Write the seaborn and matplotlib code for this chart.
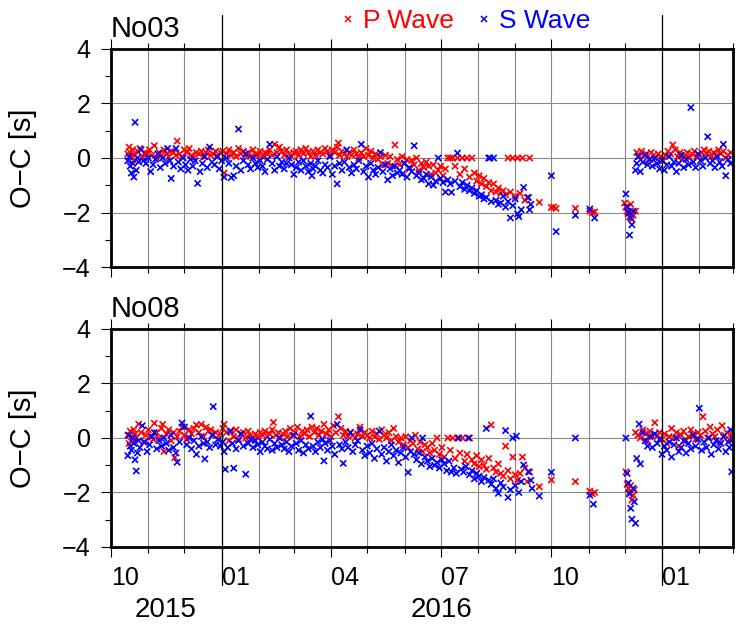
import pandas as pd
import matplotlib
matplotlib.use('Agg')
import matplotlib.pyplot as plt
import matplotlib.dates as mdates
from matplotlib.ticker import MultipleLocator
from matplotlib.lines import Line2D
import seaborn as sns

# days counted from 2015-10-01, O-C residuals in seconds
no03_p_days = [14, 15, 16, 17, 18, 19, 20, 22, 24, 26,
               28, 30, 32, 34, 36, 38, 40, 42, 44, 46,
               48, 50, 52, 54, 55, 57, 59, 61, 63, 65,
               67, 69, 71, 73, 75, 77, 79, 81, 83, 85,
               87, 89, 91, 93, 94, 96, 98, 100, 102, 104,
               106, 108, 110, 112, 114, 116, 118, 120, 122, 124,
               126, 128, 130, 132, 134, 136, 138, 140, 142, 144,
               146, 148, 150, 152, 154, 156, 158, 160, 162, 164,
               166, 168, 170, 172, 174, 176, 178, 180, 182, 184,
               186, 188, 189, 190, 192, 194, 196, 198, 200, 202,
               204, 206, 208, 210, 212, 214, 216, 218, 220, 222,
               224, 226, 228, 230, 232, 234, 236, 238, 240, 242,
               244, 246, 248, 250, 252, 254, 256, 258, 260, 262,
               264, 266, 268, 270, 272, 274, 276, 278, 280, 282,
               284, 286, 288, 290, 292, 294, 296, 298, 300, 302,
               304, 306, 308, 310, 312, 314, 316, 318, 320, 322,
               324, 326, 328, 330, 332, 334, 336, 338, 340, 342,
               344, 346, 348, 356, 366, 368, 370, 386, 398, 400,
               402, 427, 428, 429, 430, 431, 432, 433, 434, 436,
               437, 439, 441, 443, 445, 447, 449, 451, 453, 455,
               457, 459, 461, 463, 465, 467, 469, 471, 473, 475,
               477, 479, 481, 483, 485, 487, 489, 491, 493, 495,
               497, 499, 501, 503, 505, 507, 509, 511, 513, 515]
no03_p_vals = [0.15, 0.40, 0.20, 0.05, 0.30, -0.10, 0.10, 0.25, 0.35, 0.05,
               0.20, 0.15, 0.30, 0.10, 0.45, 0.00, 0.20, 0.10, 0.30, 0.15,
               0.05, 0.25, 0.20, 0.10, 0.62, 0.15, 0.05, 0.30, 0.20, 0.35,
               0.10, 0.00, 0.20, 0.15, 0.25, 0.05, 0.20, 0.30, 0.10, 0.15,
               0.25, 0.05, 0.20, 0.25, -0.55, 0.15, 0.30, 0.10, 0.20, 0.05,
               0.35, 0.15, 0.25, 0.10, 0.20, 0.05, 0.30, 0.15, 0.10, 0.25,
               0.05, 0.20, 0.15, 0.30, 0.10, 0.50, 0.20, 0.40, 0.25, 0.10,
               0.30, 0.15, 0.05, 0.20, 0.25, 0.10, 0.30, 0.15, 0.35, 0.20,
               0.05, 0.25, 0.10, 0.30, 0.20, 0.15, 0.35, 0.25, 0.10, 0.30,
               0.20, 0.40, 0.55, 0.10, 0.25, 0.15, 0.05, 0.20, 0.10, 0.30,
               0.15, 0.00, 0.20, 0.05, 0.35, 0.10, 0.25, 0.00, 0.15, -0.05,
               0.05, -0.25, 0.10, -0.20, 0.05, -0.30, 0.48, -0.05, -0.25, 0.05,
               -0.20, -0.05, -0.40, -0.10, -0.25, 0.00, -0.45, -0.20, -0.35, -0.15,
               -0.30, -0.60, -0.25, -0.55, -0.45, -0.30, -0.65, -0.40, 0.00, 0.00,
               0.00, -0.30, 0.00, -0.60, 0.00, -0.40, 0.00, -0.70, 0.00, -0.55,
               -0.85, -0.65, -0.95, -0.75, -1.05, -0.90, -1.20, -0.95, -1.25, -1.10,
               -1.30, -1.20, -1.35, 0.00, -1.25, 0.00, -1.40, 0.00, -1.30, 0.00,
               -1.55, -1.45, 0.00, -1.63, -1.82, -1.80, -1.85, -1.85, -1.95, -2.00,
               -1.98, -1.65, -1.80, -1.95, -2.05, -2.15, -1.70, -2.25, -2.10, -1.95,
               0.20, 0.05, 0.25, 0.10, 0.15, -0.05, 0.20, 0.10, 0.00, 0.15,
               0.05, -0.10, 0.10, 0.25, 0.15, 0.48, 0.30, 0.05, 0.20, -0.05,
               0.10, 0.20, 0.00, 0.15, 0.25, 0.05, 0.10, 0.20, 0.30, 0.15,
               0.25, 0.05, 0.20, 0.10, 0.30, 0.15, 0.25, 0.00, 0.10, 0.20]

no03_s_days = [14, 15, 16, 17, 18, 19, 20, 21, 22, 23,
               25, 27, 29, 31, 33, 35, 37, 39, 41, 43,
               45, 47, 49, 50, 52, 54, 56, 58, 60, 62,
               64, 66, 68, 70, 72, 74, 76, 78, 80, 82,
               84, 86, 88, 90, 92, 94, 96, 98, 100, 102,
               104, 106, 108, 110, 112, 114, 116, 118, 120, 122,
               124, 126, 128, 130, 132, 134, 136, 138, 140, 142,
               144, 146, 148, 150, 152, 154, 156, 158, 160, 162,
               164, 166, 167, 168, 170, 172, 174, 176, 178, 180,
               182, 184, 186, 188, 190, 192, 194, 196, 198, 200,
               202, 204, 206, 208, 210, 212, 214, 216, 218, 220,
               222, 224, 226, 228, 230, 232, 234, 236, 238, 240,
               242, 244, 246, 248, 250, 252, 254, 256, 258, 260,
               262, 264, 266, 268, 270, 272, 274, 276, 278, 280,
               282, 283, 286, 288, 290, 292, 294, 296, 298, 300,
               302, 304, 306, 308, 310, 312, 314, 315, 316, 318,
               320, 322, 324, 326, 328, 330, 332, 334, 336, 338,
               339, 341, 343, 347, 348, 349, 366, 370, 386, 398,
               402, 428, 429, 430, 431, 432, 433, 434, 436, 437,
               438, 440, 442, 444, 446, 448, 450, 452, 454, 456,
               458, 460, 462, 464, 466, 468, 470, 472, 474, 476,
               478, 480, 482, 484, 486, 488, 490, 492, 494, 496,
               498, 500, 502, 504, 506, 508, 509, 511, 513, 515]
no03_s_vals = [-0.10, 0.05, -0.30, -0.55, -0.20, -0.70, 1.31, -0.45, 0.00, -0.15,
               0.30, -0.10, -0.20, 0.00, -0.50, -0.25, -0.05, 0.15, -0.35, 0.00,
               -0.20, 0.35, -0.10, -0.75, -0.30, 0.35, -0.15, -0.40, 0.00, -0.25,
               -0.45, -0.05, -0.30, -0.10, -0.93, -0.50, -0.20, 0.05, -0.35, 0.40,
               -0.15, -0.25, 0.05, -0.40, -0.10, -0.70, 0.00, -0.20, -0.72, -0.65,
               -0.30, 1.06, -0.45, -0.10, 0.15, -0.25, -0.40, 0.00, -0.20, -0.35,
               -0.10, -0.30, -0.50, -0.05, 0.50, -0.20, -0.45, 0.05, -0.30, -0.15,
               -0.40, -0.20, 0.00, -0.25, -0.60, -0.35, -0.15, -0.45, -0.10, -0.30,
               -0.50, -0.20, -0.65, -0.40, -0.30, -0.10, -0.45, -0.55, -0.25, -0.35,
               0.05, -0.60, -0.30, -0.95, -0.20, -0.45, -0.15, 0.30, -0.35, -0.55,
               -0.25, -0.40, -0.10, 0.50, -0.50, -0.30, -0.70, -0.20, -0.45, -0.60,
               -0.35, 0.20, -0.50, -0.25, -0.80, -0.40, -0.65, -0.30, -0.55, -0.45,
               -0.60, -0.20, -0.70, -0.35, -0.50, 0.45, -0.65, -0.55, -0.80, -0.75,
               -0.60, -0.95, -0.70, -1.00, -0.85, 0.00, -0.75, -0.90, -1.25, -0.80,
               -0.95, -1.26, -0.85, 0.18, -1.05, -0.90, -1.15, -1.00, -1.20, -1.10,
               -1.30, -1.20, -1.40, -1.35, -1.50, -1.45, 0.00, 0.00, -1.60, 0.00,
               -1.55, -1.70, -1.65, -1.40, -1.80, -1.60, -2.20, -1.75, -1.50, -2.05,
               -2.15, -1.90, -1.08, -1.45, -1.90, -1.70, -0.65, -2.70, -2.10, -1.87,
               -2.20, -1.32, -1.80, -2.00, -2.83, -2.20, -2.45, -1.95, -0.45, -0.20,
               0.05, -0.50, -0.15, 0.10, -0.25, -0.05, -0.30, 0.00, -0.20, -0.40,
               -0.10, -0.45, -0.25, 0.05, -0.30, -0.15, -0.50, -0.20, 0.10, -0.35,
               -0.05, -0.25, 1.85, -0.15, -0.35, 0.15, -0.10, -0.30, 0.00, 0.78,
               -0.20, -0.10, -0.35, 0.05, -0.15, -0.30, 0.50, -0.65, -0.05, -0.20]

no08_p_days = [14, 15, 16, 17, 18, 19, 20, 21, 23, 25,
               27, 29, 31, 33, 35, 36, 38, 40, 42, 43,
               44, 46, 48, 50, 52, 53, 55, 57, 59, 61,
               63, 65, 67, 69, 71, 73, 75, 77, 79, 81,
               83, 85, 87, 89, 91, 93, 94, 96, 98, 100,
               102, 104, 106, 108, 110, 112, 114, 116, 118, 120,
               122, 124, 126, 128, 130, 132, 134, 135, 137, 139,
               141, 143, 145, 147, 149, 151, 153, 155, 157, 159,
               161, 163, 165, 167, 169, 171, 173, 175, 177, 179,
               181, 183, 185, 187, 189, 191, 193, 195, 197, 199,
               201, 203, 205, 207, 209, 211, 213, 215, 217, 219,
               221, 223, 225, 227, 229, 231, 233, 235, 237, 239,
               241, 243, 245, 247, 249, 251, 253, 255, 257, 259,
               261, 263, 265, 267, 269, 271, 273, 275, 277, 280,
               282, 284, 286, 288, 290, 292, 294, 296, 298, 300,
               302, 304, 306, 308, 310, 312, 314, 316, 318, 320,
               322, 324, 326, 328, 330, 332, 334, 336, 338, 340,
               342, 344, 346, 348, 356, 366, 386, 398, 400, 402,
               428, 429, 430, 431, 432, 433, 434, 435, 436, 438,
               440, 442, 444, 446, 448, 450, 452, 454, 456, 458,
               460, 462, 464, 466, 468, 470, 472, 474, 476, 478,
               480, 482, 484, 486, 488, 490, 492, 494, 496, 498,
               500, 502, 504, 506, 508, 510, 512, 514, 516, 517]
no08_p_vals = [0.10, -0.20, 0.25, 0.05, -0.10, 0.30, 0.15, 0.00, 0.51, 0.20,
               -0.15, 0.10, 0.30, 0.05, -0.05, 0.54, 0.20, 0.00, 0.35, 0.50,
               -0.50, 0.15, 0.30, -0.10, 0.20, -0.72, 0.05, 0.25, 0.40, 0.10,
               -0.05, 0.30, 0.15, 0.35, 0.48, 0.20, 0.50, 0.05, 0.40, 0.25,
               0.30, 0.10, 0.20, -0.05, 0.15, 0.35, 0.50, 0.20, -0.10, 0.25,
               0.05, 0.30, -0.05, 0.15, 0.20, 0.00, 0.25, 0.10, -0.05, 0.15,
               0.00, 0.20, 0.10, 0.25, 0.05, 0.15, 0.30, 0.57, 0.10, 0.20,
               0.00, 0.15, 0.25, 0.05, 0.35, 0.10, 0.20, 0.40, 0.05, 0.25,
               0.15, 0.30, 0.05, 0.40, 0.20, 0.35, 0.10, 0.25, 0.50, 0.15,
               0.30, 0.05, 0.45, 0.20, 0.78, 0.35, 0.10, 0.25, 0.05, 0.20,
               0.10, 0.00, 0.15, 0.40, 0.05, 0.20, 0.10, 0.00, 0.25, 0.05,
               0.15, -0.05, 0.30, 0.10, 0.00, 0.20, -0.10, 0.35, 0.05, -0.15,
               0.00, -0.25, 0.05, -0.35, -0.10, -0.20, 0.10, -0.40, -0.15, -0.50,
               -0.25, -0.35, -0.55, -0.20, -0.45, 0.00, -0.60, -0.35, -0.70, 0.00,
               -0.45, 0.00, -0.75, 0.00, -0.55, 0.00, -0.85, -0.60, 0.00, -0.80,
               -0.95, -0.65, -1.05, -0.80, -1.00, -1.15, -0.75, 0.48, -1.10, -1.25,
               -0.95, -1.30, -1.40, -0.30, -1.20, -1.50, -0.70, -1.35, -1.55, -1.30,
               -0.70, -1.10, -1.60, -1.25, -1.79, -1.54, -1.60, -1.95, -2.05, -2.00,
               -1.24, -1.70, -1.85, -2.00, -1.75, -2.28, -2.10, -1.90, 0.20, 0.10,
               0.00, 0.30, 0.15, -0.10, 0.25, 0.05, 0.56, 0.10, 0.20, -0.05,
               0.15, -0.20, 0.05, 0.35, 0.00, 0.20, -0.30, 0.10, 0.25, -0.10,
               0.05, 0.30, 0.15, -0.05, 0.20, 0.10, 0.78, 0.25, 0.00, 0.40,
               0.15, 0.05, 0.30, -0.15, 0.45, 0.10, 0.20, -0.05, 0.15, 0.05]

no08_s_days = [14, 15, 16, 17, 18, 19, 20, 21, 22, 23,
               24, 26, 28, 30, 32, 34, 36, 38, 40, 42,
               44, 46, 48, 50, 52, 54, 55, 57, 59, 61,
               63, 65, 67, 69, 71, 73, 75, 77, 78, 80,
               82, 84, 85, 87, 89, 91, 93, 94, 95, 97,
               99, 101, 102, 104, 106, 108, 110, 112, 114, 116,
               118, 120, 122, 124, 126, 128, 130, 132, 134, 136,
               138, 140, 142, 144, 146, 148, 150, 152, 154, 156,
               158, 160, 162, 164, 166, 168, 170, 172, 174, 176,
               177, 178, 180, 182, 184, 186, 188, 190, 192, 193,
               195, 197, 199, 201, 203, 205, 207, 209, 211, 213,
               215, 217, 219, 221, 223, 225, 227, 229, 231, 233,
               235, 237, 239, 241, 243, 245, 247, 249, 250, 252,
               254, 256, 258, 259, 261, 263, 265, 267, 269, 271,
               273, 275, 277, 279, 281, 283, 285, 287, 289, 291,
               293, 295, 297, 298, 300, 302, 304, 306, 308, 310,
               312, 314, 316, 318, 320, 322, 324, 326, 328, 330,
               332, 334, 336, 337, 339, 341, 343, 347, 349, 350,
               356, 366, 386, 398, 401, 428, 429, 430, 431, 432,
               433, 434, 435, 436, 437, 439, 440, 442, 444, 446,
               448, 450, 452, 454, 456, 458, 460, 462, 464, 466,
               468, 470, 472, 474, 476, 478, 480, 482, 484, 486,
               488, 489, 491, 493, 495, 497, 499, 501, 503, 505,
               507, 509, 511, 513, 514, 515, 516, 517]
no08_s_vals = [-0.65, 0.10, -0.30, -0.45, 0.00, -0.20, -0.80, -1.21, -0.55, -0.10,
               -0.35, 0.45, -0.15, -0.50, -0.25, 0.05, 0.20, -0.40, -0.10, -0.30,
               0.00, -0.20, -0.45, 0.10, -0.35, -0.55, -0.89, -0.15, 0.55, 0.40,
               -0.25, 0.00, -0.40, -0.10, -0.60, -0.30, 0.05, -0.20, -0.77, -0.15,
               -0.35, 0.10, 1.15, -0.25, -0.05, -0.30, -0.15, -0.50, -1.15, -0.35,
               0.25, -0.20, -1.11, -0.40, -0.10, 0.15, -0.30, -1.33, -0.20, -0.05,
               -0.35, -0.10, -0.25, -0.50, -0.15, -0.30, -0.40, -0.05, -0.45, -0.20,
               -0.35, 0.00, -0.25, -0.40, -0.15, -0.50, -0.30, 0.10, -0.20, -0.45,
               -0.10, -0.55, -0.25, -0.40, 0.80, -0.30, -0.50, -0.15, -0.35, -0.05,
               -0.84, -0.20, -0.45, -0.10, -0.30, -0.60, 0.50, -0.25, -0.40, -0.93,
               -0.15, -0.35, 0.20, -0.50, -0.25, -0.10, 0.30, -0.45, -0.65, -0.30,
               -0.55, -0.20, -0.75, -0.40, 0.25, -0.60, -0.35, -0.85, -0.50, -0.25,
               -0.65, -0.45, -0.90, -0.55, -0.35, -0.70, -1.26, -0.50, 0.00, -0.60,
               -0.80, -0.55, -0.95, 0.00, -0.70, -0.85, -1.05, -0.75, -1.00, -0.90,
               -1.10, -0.80, -0.95, -1.20, -0.85, -1.25, -1.10, -1.30, 0.00, -1.15,
               -1.25, -1.05, 0.00, -1.35, -1.20, -1.50, -1.30, -1.40, -1.60, -1.45,
               0.35, -1.55, -1.70, -1.50, -1.85, -2.03, -1.65, -1.80, 0.27, -2.18,
               -1.90, 0.00, -1.75, 0.07, -2.00, -1.60, -0.99, -1.24, -1.55, -1.85,
               -2.13, -1.26, 0.00, -2.10, -2.43, 0.00, -1.30, -1.65, -2.05, -2.58,
               -2.98, -1.85, -2.34, -3.13, -0.75, 0.51, -0.95, 0.20, -0.10, -0.30,
               0.05, -0.35, 0.15, -0.20, -0.05, -0.60, -0.30, -0.45, -0.15, -0.70,
               -0.25, 0.00, -0.50, -0.35, -0.10, -0.55, -0.20, -0.40, 0.10, -0.30,
               -0.05, 1.09, -0.45, -0.15, -0.35, 0.00, -0.60, -0.25, -0.10, -0.40,
               -0.20, 0.05, -0.50, -0.15, -0.35, 0.30, -1.24, -0.05]

stations = ['No03', 'No08']
waves = ['P Wave', 'S Wave']
colors = {'P Wave': 'red', 'S Wave': 'blue'}
year_labels = ['2015', '2016']

sns.set_theme(style='white')
plt.rcParams['font.family'] = ['Liberation Sans', 'DejaVu Sans']
plt.rcParams['text.color'] = 'black'
plt.rcParams['axes.labelcolor'] = 'black'
plt.rcParams['xtick.color'] = 'black'
plt.rcParams['ytick.color'] = 'black'

start = pd.Timestamp('2015-10-01')
end = pd.Timestamp('2017-03-01')


def make_frame(p_days, p_vals, s_days, s_vals):
    p = pd.DataFrame({'Time': start + pd.to_timedelta(p_days, unit='D'),
                      'OC': p_vals, 'Wave': 'P Wave'})
    s = pd.DataFrame({'Time': start + pd.to_timedelta(s_days, unit='D'),
                      'OC': s_vals, 'Wave': 'S Wave'})
    return pd.concat([p, s], ignore_index=True)


frames = [make_frame(no03_p_days, no03_p_vals, no03_s_days, no03_s_vals),
          make_frame(no08_p_days, no08_p_vals, no08_s_days, no08_s_vals)]

fig = plt.figure(figsize=(7.36, 6.24), dpi=100)
ax1 = fig.add_axes([0.1508, 0.5721, 0.8451, 0.3494])
ax2 = fig.add_axes([0.1508, 0.1234, 0.8451, 0.3494])

for ax, df, name in zip([ax1, ax2], frames, stations):
    sns.scatterplot(data=df, x='Time', y='OC', hue='Wave', palette=colors,
                    marker='x', s=20, linewidth=1.2, legend=False, ax=ax)
    ax.set_xlim(start, end)
    ax.set_ylim(-4, 4)
    ax.xaxis.set_major_locator(mdates.MonthLocator(bymonth=[1, 4, 7, 10]))
    ax.xaxis.set_minor_locator(mdates.MonthLocator())
    ax.xaxis.set_major_formatter(mdates.DateFormatter('%m'))
    ax.yaxis.set_major_locator(MultipleLocator(2))
    ax.yaxis.set_minor_locator(MultipleLocator(1))
    ax.grid(False)
    ax.grid(which='both', axis='x', color='#8a8a8a', lw=0.8)
    ax.grid(which='major', axis='y', color='#8a8a8a', lw=0.8)
    ax.tick_params(which='both', direction='out', top=True, bottom=True,
                   left=True, right=False, width=0.8, color='black')
    ax.tick_params(which='major', length=7.5)
    ax.tick_params(which='minor', length=4.3)
    ax.tick_params(axis='y', labelsize=18, pad=7)
    ax.tick_params(axis='x', labelsize=18, pad=6)
    for sp in ax.spines.values():
        sp.set_linewidth(2)
        sp.set_color('black')
    ax.set_xlabel('')
    ax.set_ylabel('O\u2212C [s]', fontsize=21)
    ax.yaxis.set_label_coords(-0.119, 0.5)
    ax.text(0.0, 1.055, name, transform=ax.transAxes, ha='left',
            va='baseline', fontsize=21)

ax1.tick_params(axis='x', labelbottom=False)
plt.setp(ax2.get_xticklabels(), ha='left')

# year annotations centred on the visible part of each year
for yr in year_labels:
    a = max(pd.Timestamp(yr + '-01-01'), start)
    b = min(pd.Timestamp(yr + '-12-31'), end)
    mid = a + (b - a) / 2
    ax2.text(mdates.date2num(mid), -0.29, yr,
             transform=ax2.get_xaxis_transform(), ha='center', va='center',
             fontsize=20)

# year boundary lines spanning both panels
for yr in ['2016', '2017']:
    xd = mdates.date2num(pd.Timestamp(yr + '-01-01'))
    xf = fig.transFigure.inverted().transform(ax2.transData.transform((xd, 0)))[0]
    fig.add_artist(Line2D([xf, xf], [1 - 15 / 624, 1 - 585 / 624],
                          transform=fig.transFigure, color='black', lw=0.9))

handles = [Line2D([], [], ls='none', marker='x', color=colors[w],
                  markersize=4, mew=1.1) for w in waves]
fig.legend(handles, waves, loc='center', bbox_to_anchor=(0.633, 0.966),
           ncol=2, frameon=False, fontsize=19, handlelength=0.5,
           handletextpad=0.3, columnspacing=0.9, labelcolor=['red', 'blue'])

fig.savefig('out.png', dpi=100)
